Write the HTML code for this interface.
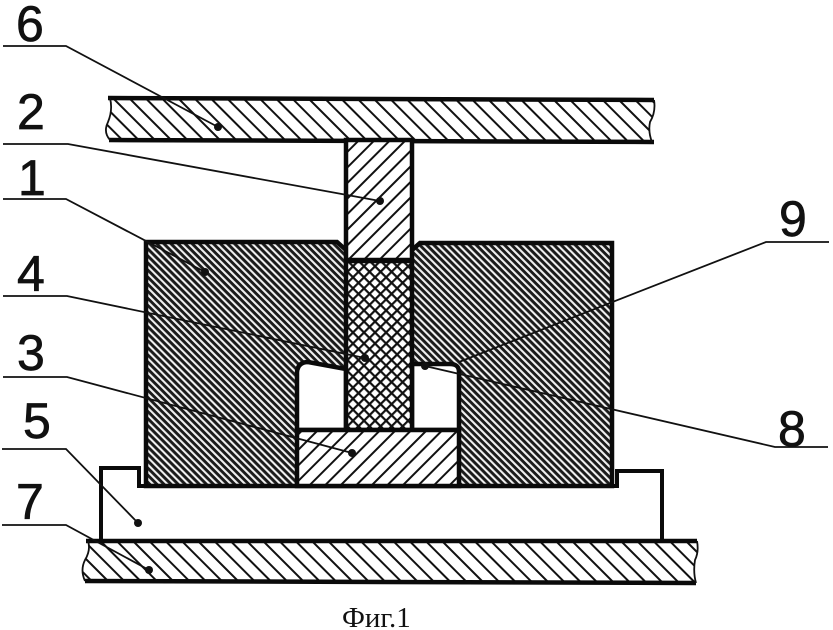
<!DOCTYPE html>
<html><head><meta charset="utf-8"><style>
html,body{margin:0;padding:0;background:#fff;width:833px;height:630px;overflow:hidden}
svg{display:block}
.n{font-family:"Liberation Sans",sans-serif;font-size:50px;fill:#111;stroke:#111;stroke-width:.7}
.f{font-family:"Liberation Serif",serif;font-size:29px;fill:#111}
.l{fill:none;stroke:#111;stroke-width:1.8}
.o{stroke:#0a0a0a;stroke-width:4.5;stroke-linejoin:miter}
</style></head><body>
<svg width="833" height="630" viewBox="0 0 833 630" xmlns="http://www.w3.org/2000/svg">
<defs>
<pattern id="a" width="11.5" height="11.5" patternUnits="userSpaceOnUse" patternTransform="rotate(45)"><rect width="11.5" height="11.5" fill="#fff"/><rect width="11.5" height="2" fill="#111"/></pattern>
<pattern id="b" width="11" height="11" patternUnits="userSpaceOnUse" patternTransform="rotate(-45)"><rect width="11" height="11" fill="#fff"/><rect width="11" height="2" fill="#111"/></pattern>
<pattern id="c" width="5" height="5" patternUnits="userSpaceOnUse" patternTransform="rotate(45)"><rect width="5" height="5" fill="#f0f0f0"/><rect width="5" height="2.9" fill="#1a1a1a"/></pattern>
<pattern id="d" width="7.8" height="7.8" patternUnits="userSpaceOnUse" patternTransform="rotate(45)"><rect width="7.8" height="7.8" fill="#fff"/><rect width="7.8" height="2.2" fill="#111"/><rect width="2.2" height="7.8" fill="#111"/></pattern>
</defs>
<rect width="833" height="630" fill="#fff"/>

<!-- top plate 6 -->
<path d="M110,98 L654,100 Q656,112 650,122 Q648,132 652,142 L110,140 Q103,132 108,122 Q113,110 110,98Z" fill="url(#a)"/>
<path d="M108,98 L654,100 M109,140 L654,142" class="o" fill="none"/>
<path d="M110,98 Q113,110 108,122 Q103,132 110,140 M654,100 Q656,112 650,122 Q648,132 652,142" fill="none" stroke="#111" stroke-width="1.8"/>

<!-- base 5 -->
<path d="M101,541 L101,468 L139,468 L139,486 L617,486 L617,471 L662,471 L662,541" fill="#fff" stroke="#0a0a0a" stroke-width="4"/>

<!-- block 1 -->
<path d="M146,242 L337,242 L346,250 L346,486 L146,486Z" fill="url(#c)"/>
<path d="M412,250 L420,243 L612,243 L612,486 L412,486Z" fill="url(#c)"/>
<path d="M346,250 L337,242 L146,242 L146,486 L612,486 L612,243 L420,243 L412,250" fill="none" class="o"/>

<!-- cavities -->
<path d="M297,430 L297,372 Q298,362 308,362 L346,369 L346,430Z" fill="#fff" class="o"/>
<path d="M412,430 L412,364 L450,364 Q459,364 459,372 L459,430Z" fill="#fff" class="o"/>

<!-- stem 2 -->
<rect x="346" y="140" width="66" height="120" fill="url(#b)" class="o"/>
<!-- core 4 -->
<rect x="346" y="261" width="66" height="169" fill="url(#d)" class="o"/>
<!-- block 3 -->
<rect x="297" y="430" width="162" height="56" fill="url(#b)" class="o"/>

<!-- bottom plate 7 -->
<path d="M88,541 L697,541 Q699,552 695,560 Q693,572 696,583 L85,581 Q80,570 85,560 Q91,550 88,541Z" fill="url(#a)"/>
<path d="M86,541 L697,541 M85,581 L696,583" class="o" fill="none"/>
<path d="M88,541 Q91,550 85,560 Q80,570 85,581 M697,541 Q699,552 695,560 Q693,572 696,583" fill="none" stroke="#111" stroke-width="1.8"/>

<!-- leaders -->
<path class="l" d="M3,46 L66,46 L218,127"/>
<path class="l" d="M3,144 L68,144 L380,201"/>
<path class="l" d="M3,199 L66,199 L205,272"/>
<path class="l" d="M3,296 L67,296 L365,358"/>
<path class="l" d="M3,377 L67,377 L352,453"/>
<path class="l" d="M2,449 L66,449 L138,523"/>
<path class="l" d="M2,525 L66,525 L149,570"/>
<path class="l" d="M829,242 L766,242 L459,362"/>
<path class="l" d="M828,447 L775,447 L425,366"/>
<g fill="#111">
<circle cx="218" cy="127" r="4"/><circle cx="380" cy="201" r="4"/><circle cx="205" cy="272" r="4"/>
<circle cx="365" cy="358" r="4"/><circle cx="352" cy="453" r="4"/><circle cx="138" cy="523" r="4"/>
<circle cx="149" cy="570" r="4"/><circle cx="425" cy="366" r="4"/>
</g>

<!-- labels -->
<text class="n" x="16" y="41">6</text>
<text class="n" x="17" y="129">2</text>
<text class="n" x="18" y="195">1</text>
<text class="n" x="17" y="291">4</text>
<text class="n" x="17" y="370">3</text>
<text class="n" x="23" y="438">5</text>
<text class="n" x="16" y="519">7</text>
<text class="n" x="779" y="236">9</text>
<text class="n" x="778" y="446">8</text>
<text class="f" x="342" y="627">Фиг.1</text>
</svg>
</body></html>
